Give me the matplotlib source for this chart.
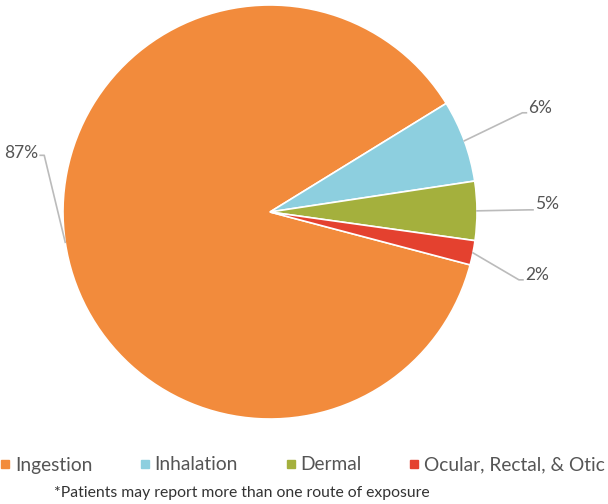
import matplotlib
matplotlib.use("Agg")
import matplotlib.pyplot as plt
from matplotlib.lines import Line2D
import numpy as np

plt.rcParams['font.family'] = ['Lato', 'DejaVu Sans']

routes = ["Ingestion", "Inhalation", "Dermal", "Ocular, Rectal, & Otic"]
shares = [87.1, 6.4, 4.6, 1.9]
colors = ["#F28B3C", "#8DCFDF", "#A4B03D", "#E4412F"]

# label placement (pixel offsets of connector elbow from the wedge edge point)
label_elbow = [(-21, -87), (58, -28), (52, -1), (46, 27)]
label_ha = ["right", "left", "left", "left"]
label_lift = [2, 5, 6, 5]

W, H = 608, 504
fig = plt.figure(figsize=(W / 100, H / 100), dpi=100)
ax = fig.add_axes([0, 0, 1, 1])

cx, cy, r = 270, H - 212, 207
wedges, _ = ax.pie(shares, colors=colors, startangle=-14.8, counterclock=False,
                   center=(cx, cy), radius=r, frame=True,
                   wedgeprops=dict(edgecolor="white", linewidth=1.2))
ax.set_xlim(0, W)
ax.set_ylim(0, H)
ax.axis("off")

for w, val, (dx, dy), ha, lift in zip(wedges, shares, label_elbow, label_ha, label_lift):
    mid = np.deg2rad((w.theta1 + w.theta2) / 2)
    x0, y0 = cx + r * np.cos(mid), cy + r * np.sin(mid)
    x1, y1 = x0 + dx, y0 - dy
    sign = 1 if ha == "left" else -1
    x2 = x1 + 4 * sign
    ax.plot([x0, x1, x2], [y0, y1, y1], color="#BBBBBB", lw=1.2)
    ax.text(x2 + 2 * sign, y1 + lift, f"{round(val)}%", ha=ha, va="center",
            fontsize=12.5, color="#555555", fontstyle="normal")

handles = [Line2D([], [], marker="s", linestyle="", markersize=6,
                  markerfacecolor=c, markeredgecolor=c) for c in colors]
fig.legend(handles, routes, loc="center", bbox_to_anchor=(0.497, 1 - 465 / H),
           ncol=4, frameon=False, fontsize=13.8, handlelength=0.6,
           handletextpad=0.2, columnspacing=2.45, labelcolor="#555555")

fig.text(0.397, 1 - 493 / H, "*Patients may report more than one route of exposure",
         ha="center", va="center", fontsize=11.3, color="#333333")

fig.savefig("out.png", dpi=100)
